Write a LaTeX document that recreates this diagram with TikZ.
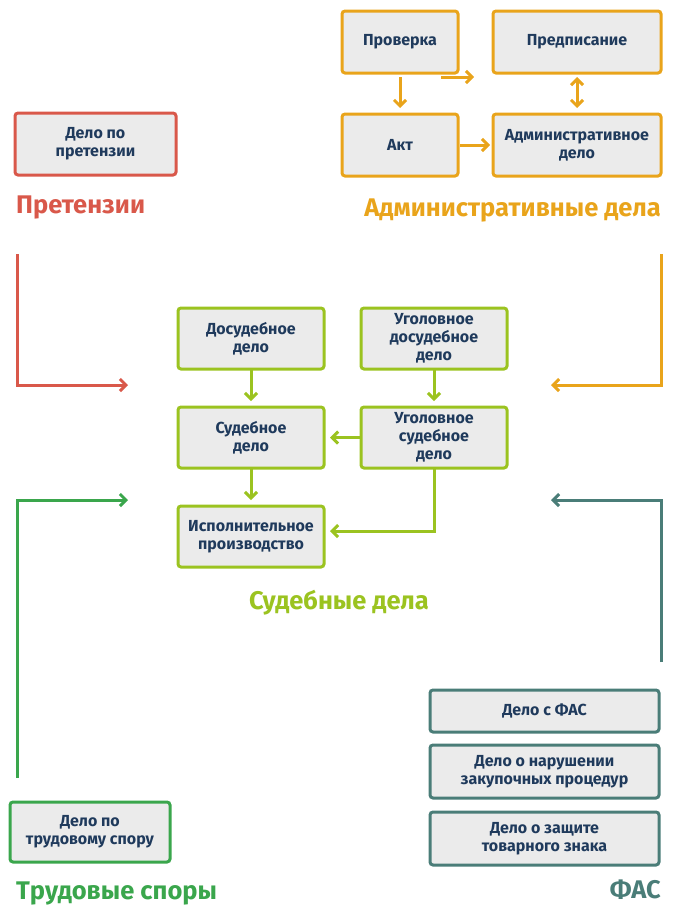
\documentclass[tikz,border=0pt]{standalone}
\usepackage{fontspec}
\setmainfont{Fira Sans}
\usetikzlibrary{arrows.meta}
\definecolor{cRed}{HTML}{D9584A}
\definecolor{cOrange}{HTML}{E9A41B}
\definecolor{cLime}{HTML}{9BC320}
\definecolor{cGreen}{HTML}{3AA64C}
\definecolor{cTeal}{HTML}{4A7D78}
\definecolor{cFill}{HTML}{EBEBEB}
\definecolor{cText}{HTML}{1F3A5C}
\tikzset{>={Straight Barb[length=6pt,width=12pt]}}
\tikzset{
  casebox/.style={draw=#1, fill=cFill, line width=3pt, rounded corners=3pt,
    align=center, text=cText, font=\fontsize{16}{18}\selectfont\bfseries,
    inner sep=0pt, outer sep=0pt},
  flow/.style={draw=#1, line width=3pt, ->},
  heading/.style={text=#1, font=\fontsize{25.5}{30}\selectfont\bfseries, inner sep=0pt}
}

\begin{document}
\begin{tikzpicture}[x=1pt, y=-1pt]

  \useasboundingbox (0,0) rectangle (676,908);

  %% Административные дела
  \node[casebox=cOrange, minimum width=116, minimum height=62] (check) at (400,42) {Проверка};
  \node[casebox=cOrange, minimum width=168, minimum height=62] (order) at (577,42) {Предписание};
  \node[casebox=cOrange, minimum width=116, minimum height=62] (act)   at (400,145) {Акт};
  \node[casebox=cOrange, minimum width=168, minimum height=62] (admin) at (577,145) {Административное\\дело};
  \node[heading=cOrange, anchor=east] (adminT) at (661,210) {Административные дела};

  \draw[flow=cOrange] ([yshift=-4]check.south) -- ([yshift=6]act.north);
  \draw[flow=cOrange] ([xshift=-17,yshift=-4]check.south east) -- ++(33,0);
  \draw[flow=cOrange, <->] ([yshift=-4]order.south) -- ([yshift=6]admin.north);
  \draw[flow=cOrange] ([xshift=2]act.east) -- ([xshift=-3]admin.west);

  %% Претензии
  \node[casebox=cRed, minimum width=161, minimum height=62] (claim) at (95.5,144) {Дело по\\претензии};
  \node[heading=cRed, anchor=west] (claimT) at (16,207) {Претензии};

  %% Судебные дела
  \node[casebox=cLime, minimum width=146, minimum height=61] (pretrial) at (251,338.5) {Досудебное\\дело};
  \node[casebox=cLime, minimum width=146, minimum height=61] (crimpre)  at (434,338.5) {Уголовное\\досудебное\\дело};
  \node[casebox=cLime, minimum width=146, minimum height=61] (court)    at (251,437.5) {Судебное\\дело};
  \node[casebox=cLime, minimum width=146, minimum height=61] (crimcourt) at (434,437.5) {Уголовное\\судебное\\дело};
  \node[casebox=cLime, minimum width=146, minimum height=61] (enforce)  at (251,536.5) {Исполнительное\\производство};
  \node[heading=cLime] (courtT) at (339,603) {Судебные дела};

  \draw[flow=cLime] (pretrial) -- ([yshift=6]court.north);
  \draw[flow=cLime] (crimpre) -- ([yshift=6]crimcourt.north);
  \draw[flow=cLime] (crimcourt.west) -- ([xshift=6]court.east);
  \draw[flow=cLime] (court) -- ([yshift=6]enforce.north);
  \draw[flow=cLime] (crimcourt.south) |- ([xshift=6,yshift=5.5]enforce.east);

  %% Трудовые споры
  \node[casebox=cGreen, minimum width=160, minimum height=60] (labor) at (90,832) {Дело по\\трудовому спору};
  \node[heading=cGreen, anchor=west] (laborT) at (16,893) {Трудовые споры};

  %% ФАС
  \node[casebox=cTeal, minimum width=229, minimum height=42] (fas1) at (544.5,711) {Дело с ФАС};
  \node[casebox=cTeal, minimum width=229, minimum height=53] (fas2) at (544.5,771.5) {Дело о нарушении\\закупочных процедур};
  \node[casebox=cTeal, minimum width=229, minimum height=53] (fas3) at (544.5,838.5) {Дело о защите\\товарного знака};
  \node[heading=cTeal, anchor=east] (fasT) at (661,890) {ФАС};

  %% боковые стрелки
  \coordinate (redA) at (17,254);    \coordinate (redB) at (128,385);
  \coordinate (oraA) at (661,254);   \coordinate (oraB) at (551,385);
  \coordinate (grnA) at (17,778);    \coordinate (grnB) at (128,500);
  \coordinate (tealA) at (661,662);  \coordinate (tealB) at (551,500);

  \draw[flow=cRed] (redA) |- (redB);
  \draw[flow=cOrange] (oraA) |- (oraB);
  \draw[flow=cGreen] (grnA) |- (grnB);
  \draw[flow=cTeal] (tealA) |- (tealB);

\end{tikzpicture}
\end{document}
